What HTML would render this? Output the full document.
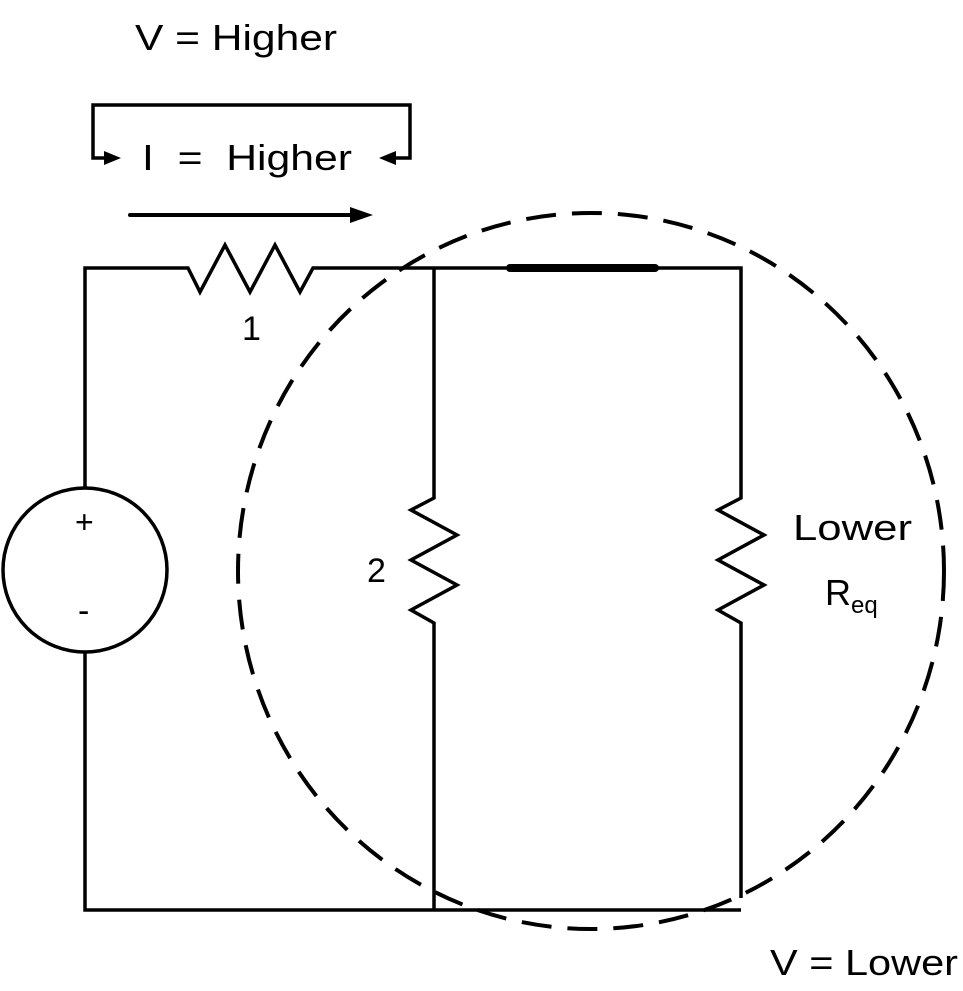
<!DOCTYPE html>
<html><head><style>
html,body{margin:0;padding:0;background:#fff;}
svg{display:block;}
text{font-family:"Liberation Sans",sans-serif;fill:#000;}
</style></head><body>
<svg width="963" height="991" viewBox="0 0 963 991" xmlns="http://www.w3.org/2000/svg">
<g fill="none" stroke="#000" stroke-width="3.5" stroke-linejoin="miter">
<polyline points="85,488 85,268 188,268 200,292 225,245 250,292 275,245 300,292 313,268 741,268 741,498 718,510 764,535 718,560 764,585 718,610 741,623 741,898"/>
<polyline points="85,652 85,910 741,910"/>
<polyline points="434,268 434,498 411,510 457,535 411,560 457,585 411,610 434,623 434,910"/>
<circle cx="85" cy="570" r="82"/>
<polyline points="106,158 93,158 93,105 410,105 410,158 396,158"/>
</g>
<path d="M104,151 L121,158 L104,165 Z" fill="#000"/>
<path d="M396,151 L379,158 L396,165 Z" fill="#000"/>
<line x1="130" y1="215" x2="355" y2="215" stroke="#000" stroke-width="4" stroke-linecap="round"/>
<path d="M350,207 L373,215 L350,223 Z" fill="#000"/>
<line x1="510" y1="268" x2="655" y2="268" stroke="#000" stroke-width="8" stroke-linecap="round"/>
<ellipse cx="591" cy="571" rx="353" ry="358" fill="none" stroke="#000" stroke-width="4" stroke-dasharray="30,16"/>
<text x="135" y="50" font-size="36" textLength="202" lengthAdjust="spacingAndGlyphs">V = Higher</text>
<text x="142" y="170" font-size="36" textLength="210" lengthAdjust="spacingAndGlyphs" xml:space="preserve">I  =  Higher</text>
<text x="242" y="340" font-size="34">1</text>
<text x="367" y="582" font-size="34">2</text>
<text x="75" y="533" font-size="32">+</text>
<text x="78" y="622" font-size="34">-</text>
<text x="793" y="540" font-size="36" textLength="119" lengthAdjust="spacingAndGlyphs">Lower</text>
<text x="825" y="605" font-size="36">R<tspan font-size="24" dy="8">eq</tspan></text>
<text x="770" y="975" font-size="36" textLength="188" lengthAdjust="spacingAndGlyphs">V = Lower</text>
</svg>
</body></html>
